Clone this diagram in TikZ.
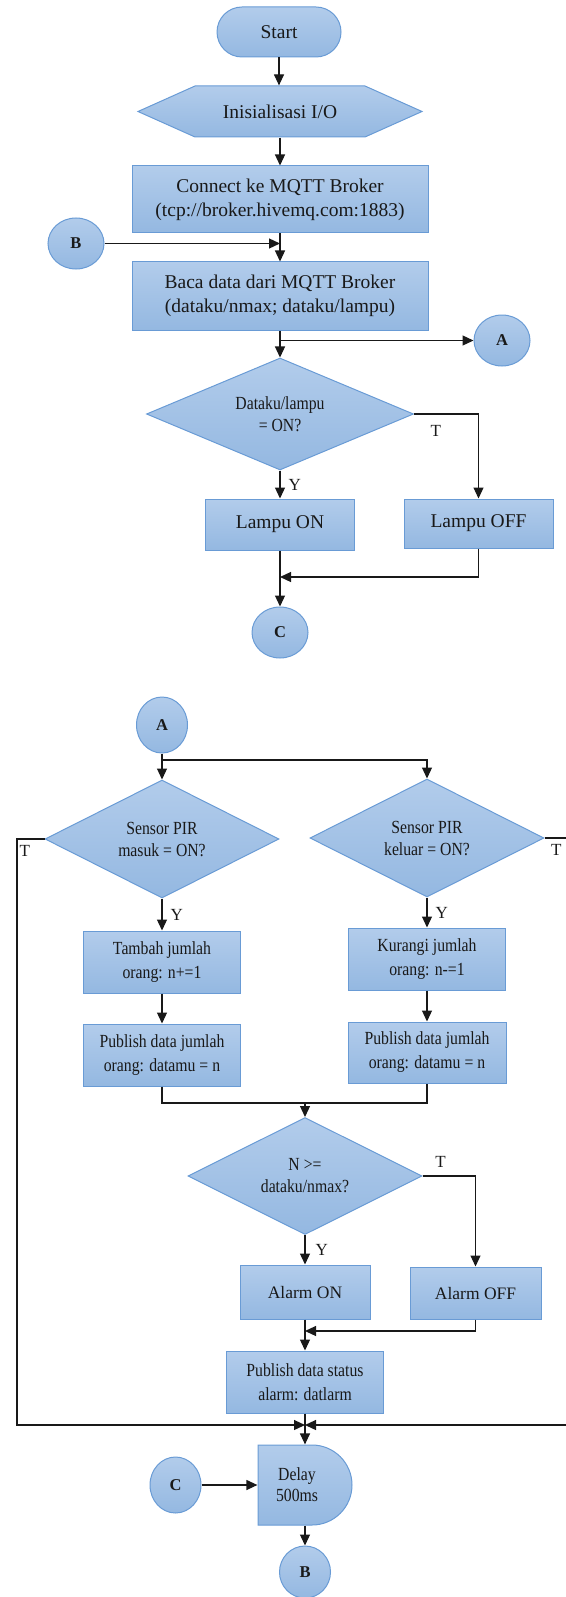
\documentclass[tikz,border=0pt]{standalone}
\usepackage{fontspec}
\setmainfont{Liberation Serif}
\newfontfamily\narrowfont[FakeStretch=0.85]{Liberation Serif}
\usetikzlibrary{shapes.geometric,arrows.meta}

\definecolor{boxtop}{RGB}{178,204,235}
\definecolor{boxbot}{RGB}{148,184,225}
\definecolor{boxline}{RGB}{105,155,213}
\definecolor{wire}{RGB}{25,25,25}

\tikzset{
  box/.style={draw=boxline, line width=1pt, top color=boxtop, bottom color=boxbot},
  proc/.style={box, rectangle, inner sep=0pt, align=center},
  bigtext/.style={font=\fontsize{19.5}{24}\selectfont},
  smalltext/.style={font=\narrowfont\fontsize{18.5}{24}\selectfont},
  dec/.style={box, diamond, inner sep=0pt, aspect=2, align=center,
    font=\narrowfont\fontsize{18.5}{22}\selectfont},
  conn/.style={box, ellipse, inner sep=0pt, minimum width=56pt, minimum height=51pt,
    font=\bfseries\fontsize{16.5}{16.5}\selectfont},
  lbl/.style={font=\fontsize{17}{17}\selectfont, inner sep=2pt},
}

\begin{document}
\begin{tikzpicture}[x=1pt, y=-1pt, color=wire, line width=1.2pt,
    >={Triangle[length=11pt,width=10pt]}]
  \useasboundingbox (0,0) rectangle (565,1597);

  \node[proc, bigtext, rounded corners=25pt, minimum width=124pt, minimum height=50pt] (start) at (279,32) {Start};
  \path[box] (138,111.5) -- (195,86) -- (365,86) -- (422,111.5) -- (365,137) -- (195,137) -- cycle;
  \node[bigtext, minimum width=284pt, minimum height=51pt] (init-io) at (280,111.5) {Inisialisasi I/O};
  \node[proc, bigtext, minimum width=296pt, minimum height=67pt] (connect) at (280,199.5) {Connect ke MQTT Broker\\(tcp://broker.hivemq.com:1883)};
  \node[proc, bigtext, minimum width=296pt, minimum height=68pt] (baca) at (280,296) {Baca data dari MQTT Broker\\(dataku/nmax; dataku/lampu)};
  \node[conn] (con-b) at (76,243.5) {B};
  \node[conn] (con-a) at (502,340.5) {A};
  \node[dec, minimum width=267pt, minimum height=112pt, aspect=2.4] (cek-lampu) at (280,414) {Dataku/lampu\\= ON?};
  \node[proc, bigtext, minimum width=149pt, minimum height=51pt] (lampu-on) at (280,524.5) {Lampu ON};
  \node[proc, bigtext, minimum width=149pt, minimum height=49pt] (lampu-off) at (478.5,523.5) {Lampu OFF};
  \node[conn] (con-c) at (280,632.5) {C};

  \node[conn, minimum width=51pt, minimum height=56pt] (con-a2) at (162,725) {A};
  \node[dec, minimum width=234pt, minimum height=118pt] (cek-masuk) at (162,839) {Sensor PIR\\masuk = ON?};
  \node[dec, minimum width=234pt, minimum height=118pt] (cek-keluar) at (427,838) {Sensor PIR\\keluar = ON?};
  \node[proc, smalltext, minimum width=157pt, minimum height=62pt] (tambah) at (162,962) {Tambah jumlah\\orang: n+=1};
  \node[proc, smalltext, minimum width=157pt, minimum height=62pt] (kurangi) at (427,959) {Kurangi jumlah\\orang: n-=1};
  \node[proc, smalltext, minimum width=157pt, minimum height=62pt] (pub-masuk) at (162,1055) {Publish data jumlah\\orang: datamu = n};
  \node[proc, smalltext, minimum width=158pt, minimum height=61pt] (pub-keluar) at (427,1052.5) {Publish data jumlah\\orang: datamu = n};
  \node[dec, minimum width=234pt, minimum height=117pt] (cek-nmax) at (305,1176) {N >=\\dataku/nmax?};
  \node[proc, font=\fontsize{17.5}{20}\selectfont, minimum width=130pt, minimum height=54pt] (alarm-on) at (305,1292) {Alarm ON};
  \node[proc, font=\fontsize{17.5}{20}\selectfont, minimum width=131pt, minimum height=52pt] (alarm-off) at (475.5,1293) {Alarm OFF};
  \node[proc, smalltext, minimum width=157pt, minimum height=62pt] (pub-alarm) at (305,1382) {Publish data status\\alarm: datlarm};
  \path[box] (258,1445) -- (312,1445) arc (-90:90:40) -- (258,1525) -- cycle;
  \node[smalltext, align=center, minimum width=78pt, minimum height=80pt, inner sep=0pt,
    font=\narrowfont\fontsize{18.5}{21}\selectfont] (delay) at (297,1485) {Delay\\500ms};
  \node[conn, minimum width=51pt, minimum height=56pt] (con-c2) at (175.5,1485) {C};
  \node[conn, minimum width=51pt, minimum height=52pt] (con-b2) at (305,1572) {B};

  \coordinate (join-c) at (280,577);
  \coordinate (split-a) at (162,760);
  \coordinate (join-n) at (305,1103);
  \coordinate (join-alarm) at (305,1331);
  \coordinate (loop-l) at (17,1425);
  \coordinate (loop-r) at (568,1425);
  \coordinate (join-d) at (305,1425);

  \draw[->] (start) -- (start |- init-io.north);
  \draw[->] (init-io) -- (connect);
  \draw[->] (connect) -- (baca);
  \draw[->] (con-b) -- (con-b -| connect);
  \draw[->] (baca) -- (cek-lampu);
  \draw[->] (baca.south |- con-a) -- (con-a);
  \draw[->] (cek-lampu) -- node[lbl, right, xshift=6pt] {Y} (lampu-on);
  \draw[->] (cek-lampu.east) -| node[lbl, pos=0.17, below, yshift=-9pt] {T} (lampu-off);
  \draw[->] (lampu-on) -- (con-c);
  \draw[->] (lampu-off) |- (join-c);

  \draw[->] (con-a2) -- (cek-masuk);
  \draw[->] (split-a) -| (cek-keluar);
  \draw[->] (cek-masuk) -- node[lbl, right, xshift=6pt] {Y} (tambah);
  \draw[->] (tambah) -- (pub-masuk);
  \draw[->] (cek-keluar) -- node[lbl, right, xshift=6pt] {Y} (kurangi);
  \draw[->] (kurangi) -- (pub-keluar);
  \draw (pub-masuk) |- (pub-keluar.south |- join-n) -- (pub-keluar);
  \draw[->] (join-n) -- (cek-nmax);
  \draw[->] (cek-nmax) -- node[lbl, right, xshift=8pt] {Y} (alarm-on);
  \draw[->] (cek-nmax.east) -| node[lbl, pos=0.17, above, yshift=6pt] {T} (alarm-off);
  \draw[->] (alarm-on) -- (pub-alarm);
  \draw[->] (alarm-off) |- (join-alarm);
  \draw[->] (cek-masuk.west) -| node[lbl, pos=0.5, anchor=north west, yshift=-4pt] {T} (loop-l) -- (join-d);
  \draw[->] (cek-keluar.east) -| node[lbl, pos=0.5, anchor=north east, xshift=-4pt, yshift=-4pt] {T} (loop-r) -- (join-d);
  \draw[->] (pub-alarm) -- (pub-alarm |- delay.north);
  \draw[->] (con-c2) -- (con-c2 -| delay.west);
  \draw[->] (pub-alarm |- delay.south) -- (con-b2);
\end{tikzpicture}
\end{document}
